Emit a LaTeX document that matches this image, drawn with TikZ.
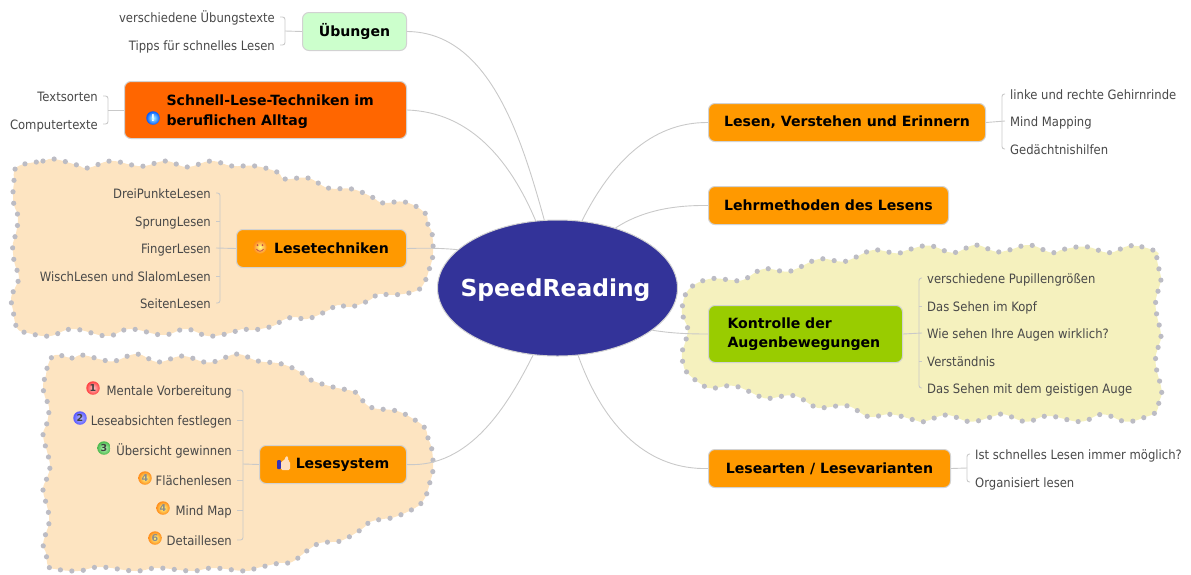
\documentclass[tikz,border=0pt]{standalone}
\usepackage{fontspec}
\setmainfont{DejaVu Sans}
\newfontfamily\subf[FakeStretch=0.9]{DejaVu Sans}
\usetikzlibrary{shapes.geometric}
\definecolor{cOrange}{HTML}{FF9900}
\definecolor{cDeep}{HTML}{FF6600}
\definecolor{cMint}{HTML}{CCFFCC}
\definecolor{cLime}{HTML}{99CC00}
\definecolor{cNavy}{HTML}{333399}
\definecolor{cPeach}{HTML}{FDE4C1}
\definecolor{cCream}{HTML}{F5F1BE}
\definecolor{cDot}{HTML}{BCBCC4}
\definecolor{cLine}{HTML}{C9C9C9}
\definecolor{cEdge}{HTML}{D2D2D2}
\definecolor{cSub}{HTML}{484848}
\tikzset{
  cloudshape/.style={draw=cDot,line width=5.2pt,dash pattern=on 0pt off 11.5pt,line cap=round,line join=round},
  topic/.style={draw=cEdge,line width=1pt,rounded corners=6.5pt,inner sep=0pt,font=\bfseries\fontsize{14.1}{19.5}\selectfont,text=black,anchor=north west},
  sub/.style={font=\subf\fontsize{12.9}{15}\selectfont,text=cSub,inner ysep=0pt,inner xsep=5pt,text height=12pt,text depth=2pt},
  subl/.style={sub,anchor=east},
  subr/.style={sub,anchor=west},
  link/.style={draw=cLine,line width=0.9pt},
  branch/.style={draw=cLine,line width=0.9pt,rounded corners=2.5pt},
  numball/.style={circle,shade,shading=radial,minimum size=13.5pt,inner sep=0pt,font=\bfseries\fontsize{9.5}{9.5}\selectfont,text=black!75},
  ballred/.style={numball,inner color=red!20!white,outer color=red!75!white},
  ballblue/.style={numball,inner color=blue!25!white,outer color=blue!65!white},
  ballgreen/.style={numball,inner color=green!25!white,outer color=green!60!black!70!white},
  ballgold/.style={numball,inner color=yellow!45!white,outer color=orange!90!white,text=black!45},
}
\begin{document}
\begin{tikzpicture}[x=1pt,y=-1pt]
\useasboundingbox (0,0) rectangle (1191,574);
% clouds
\draw[cloudshape,fill=cPeach] plot[smooth cycle,tension=0.7] coordinates {
(17,167)(43,161)(54,159)(77,165)(88,168)(110,161)(132,165)(145,166)(166,161)(187,167)(211,161)(232,166)(255,166)(277,172)(285,179)(308,178)(328,188)(352,189)(372,197)(383,203)(405,202)(425,213)(428,225)(432,233)(433,253)(430,267)(423,285)(413,292)(392,295)(379,294)(368,301)(350,307)(338,305)(327,311)(307,319)(295,317)(283,320)(273,326)(253,330)(242,329)(230,333)(208,336)(186,329)(163,335)(130,329)(107,336)(73,329)(50,336)(28,333)(17,328)(13,310)(11,298)(15,288)(19,277)(15,265)(13,253)(13,243)(16,233)(18,217)(14,205)(13,194)(14,183)};
\draw[cloudshape,fill=cPeach] plot[smooth cycle,tension=0.7] coordinates {
(55,355)(72,358)(82,355)(103,360)(115,361)(137,354)(158,362)(182,356)(204,362)(217,361)(237,354)(258,361)(282,364)(302,373)(311,380)(333,387)(355,392)(363,401)(373,408)(397,411)(415,420)(425,428)(428,438)(432,450)(433,470)(430,482)(427,493)(423,501)(415,508)(395,517)(383,519)(370,522)(362,529)(343,540)(332,542)(320,543)(308,550)(292,562)(280,563)(257,568)(245,571)(213,568)(192,571)(158,568)(135,571)(100,567)(78,571)(55,569)(48,566)(46,553)(43,545)(46,533)(49,523)(48,510)(43,490)(47,478)(50,467)(48,455)(43,435)(47,423)(49,407)(45,397)(43,385)(46,375)(48,365)};
\begin{scope}[shift={(660pt,-230pt)},x=0.339pt,y=-0.3333pt]
\draw[cloudshape,fill=cCream] plot[smooth cycle,tension=0.7] coordinates {
(1465,65)(1390,47)(1325,68)(1257,50)(1190,58)(1155,68)(1090,45)(1030,60)(990,65)(930,45)(865,68)(795,47)(730,60)(697,70)(630,60)(570,85)(535,95)(470,87)(405,115)(370,125)(305,117)(245,150)(210,150)(145,147)(85,178)(65,235)(70,265)(82,297)(75,335)(65,368)(68,400)(80,428)(125,465)(155,475)(220,468)(295,500)(325,505)(395,497)(455,530)(485,533)(555,528)(615,560)(680,553)(750,570)(780,575)(845,555)(915,575)(980,560)(1015,553)(1080,575)(1145,558)(1240,575)(1305,553)(1375,575)(1435,560)(1465,545)(1472,515)(1480,483)(1465,420)(1462,382)(1470,350)(1478,315)(1465,253)(1462,215)(1470,180)(1478,148)(1472,118)(1465,85)};
\end{scope}
% central
\node[ellipse,draw=cEdge,line width=1pt,fill=cNavy,minimum width=240pt,minimum height=136pt,inner sep=0pt,label={[text=white,font=\bfseries\fontsize{23.4}{28}\selectfont,xshift=-2pt,yshift=-2pt]center:SpeedReading}] (c) at (557.5,288) {};
% topics
\node[topic,fill=cMint,minimum width=104pt,minimum height=38pt] (ub) at (302,12) {Übungen};
\node[topic,fill=cDeep,minimum width=282pt,minimum height=57pt,text width=262pt,inner xsep=10pt,align=left] (sc) at (124,81) {\rule{0pt}{14pt}\hspace*{32pt}Schnell-Lese-Techniken im\\\hspace*{32pt}beruflichen Alltag};
\node[topic,fill=cOrange,minimum width=170pt,minimum height=38pt] (lt) at (236,229) {\hspace*{20pt}Lesetechniken};
\node[topic,fill=cOrange,minimum width=147pt,minimum height=38pt] (ls) at (259,445) {\hspace*{19pt}Lesesystem};
\node[topic,fill=cOrange,minimum width=277pt,minimum height=38pt] (lv) at (708,103) {Lesen, Verstehen und Erinnern};
\node[topic,fill=cOrange,minimum width=240pt,minimum height=38pt] (lm) at (708,186) {Lehrmethoden des Lesens};
\node[topic,fill=cLime,minimum width=194pt,minimum height=57pt,text width=174pt,inner xsep=10pt,align=left] (ka) at (708,305) {\hspace*{9pt}Kontrolle der\\\hspace*{9pt}Augenbewegungen};
\node[topic,fill=cOrange,minimum width=242pt,minimum height=38pt] (la) at (708,449) {Lesearten / Lesevarianten};
% sub topics
\node[subl] (u1) at (280,17) {verschiedene Übungstexte};
\node[subl] (u2) at (280,45) {Tipps für schnelles Lesen};
\node[subl] (s1) at (103,96) {Textsorten};
\node[subl] (s2) at (103,124) {Computertexte};
\node[subl] (t1) at (216,193) {DreiPunkteLesen};
\node[subl] (t2) at (216,221) {SprungLesen};
\node[subl] (t3) at (216,248) {FingerLesen};
\node[subl] (t4) at (216,276) {WischLesen und SlalomLesen};
\node[subl] (t5) at (216,303) {SeitenLesen};
\node[subl] (y1) at (237,390) {Mentale Vorbereitung};
\node[subl] (y2) at (237,420) {Leseabsichten festlegen};
\node[subl] (y3) at (237,450) {Übersicht gewinnen};
\node[subl] (y4) at (237,480) {Flächenlesen};
\node[subl] (y5) at (237,510) {Mind Map};
\node[subl] (y6) at (237,540) {Detaillesen};
\node[subr] (v1) at (1005,94) {linke und rechte Gehirnrinde};
\node[subr] (v2) at (1005,121) {Mind Mapping};
\node[subr] (v3) at (1005,149) {Gedächtnishilfen};
\node[subr] (k1) at (922,278) {verschiedene Pupillengrößen};
\node[subr] (k2) at (922,306) {Das Sehen im Kopf};
\node[subr] (k3) at (922,333) {Wie sehen Ihre Augen wirklich?};
\node[subr] (k4) at (922,361) {Verständnis};
\node[subr] (k5) at (922,388) {Das Sehen mit dem geistigen Auge};
\node[subr] (a1) at (970,454) {Ist schnelles Lesen immer möglich?};
\node[subr] (a2) at (970,482) {Organisiert lesen};
% icons
\node[ballred] (n1) at (93,388) {1};
\node[ballblue] (n2) at (80,418) {2};
\node[ballgreen] (n3) at (104,448) {3};
\node[ballgold] (n4) at (145,478) {4};
\node[ballgold] (n5) at (163,508) {4};
\node[ballgold] (n6) at (155,538) {6};
\node[numball,inner color=cyan!30!white,outer color=blue!65!cyan,text=white] (info) at (153,118) {!};
\node[ballgold] (smile) at (260,247) {};
\fill[red!65!black!70!white] (257.5,245) circle (1pt) (262.5,245) circle (1pt);
\draw[red!65!black!70!white,line width=0.8pt] (256.5,249) .. controls (258,252) and (262,252) .. (263.5,249);
\fill[blue!65!black!80!white,rounded corners=1pt] (277,460) rectangle (281,469);
\fill[orange!25!white,rounded corners=1.5pt] (281,461) -- (284,461) -- (286,456) -- (288,456) -- (288,461) -- (290,461) -- (290,470) -- (281,470) -- cycle;
% connectors
\draw[link] (ub.east) .. controls (490,32) and (522,140) .. (c.101.6);
\draw[link] (sc.east) .. controls (470,112) and (510,160) .. (c.108.7);
\draw[link] (lt.east) .. controls (425,248) and (440,248) .. (c.159);
\draw[link] (ls.east) .. controls (470,468) and (508,405) .. (c.250.6);
\draw[link] (lv.west) .. controls (650,122) and (610,165) .. (c.70);
\draw[link] (lm.west) .. controls (670,205) and (640,212) .. (c.46.4);
\draw[link] (ka.west) .. controls (685,334) and (670,333) .. (c.336.4);
\draw[link] (la.west) .. controls (650,470) and (605,430) .. (c.287);
% branches
\coordinate (bu) at (285,31);
\draw[branch] (u1.east) -| (bu) |- (u2.east);
\draw[link] (ub.west) -- (bu);
\coordinate (bs) at (108,110);
\draw[branch] (s1.east) -| (bs) |- (s2.east);
\draw[link] (sc.west) -- (bs);
\coordinate (bt) at (220,248);
\draw[branch] (t1.east) -| (bt) |- (t5.east);
\draw[link] (lt.west) -- (t3.east);
\draw[link] (t2.east) -- (t2.east -| bt);
\draw[link] (t4.east) -- (t4.east -| bt);
\coordinate (by) at (243,464);
\draw[branch] (y1.east) -| (by) |- (y6.east);
\draw[link] (ls.west) -- (by);
\foreach \n in {y2,y3,y4,y5} \draw[link] (\n.east) -- (\n.east -| by);
\coordinate (bv) at (1002,122);
\draw[branch] (v1.west) -| (bv) |- (v3.west);
\draw[link] (lv.east) -- (v2.west);
\coordinate (bk) at (919,333);
\draw[branch] (k1.west) -| (bk) |- (k5.west);
\draw[link] (ka.east) -- (k3.west);
\draw[link] (k2.west) -- (k2.west -| bk);
\draw[link] (k4.west) -- (k4.west -| bk);
\coordinate (ba) at (967,468);
\draw[branch] (a1.west) -| (ba) |- (a2.west);
\draw[link] (la.east) -- (ba);
\end{tikzpicture}
\end{document}
